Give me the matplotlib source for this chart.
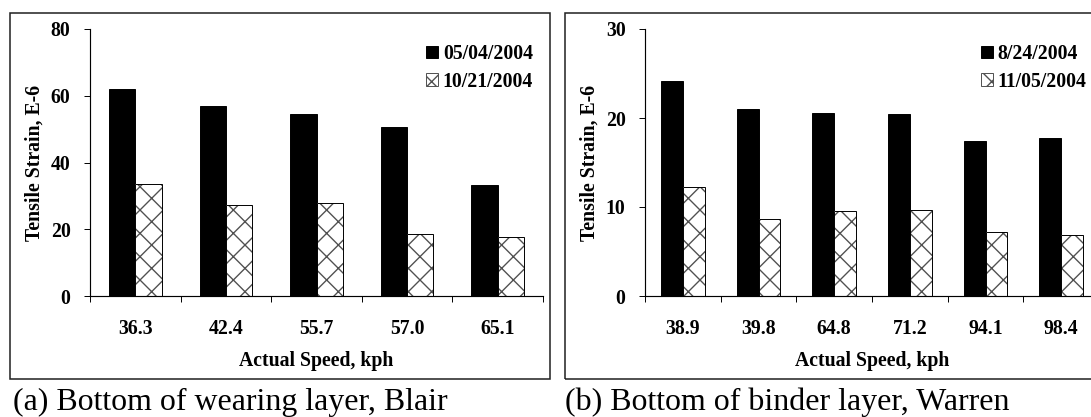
import numpy as np
import matplotlib
matplotlib.use('Agg')
import matplotlib.pyplot as plt
from matplotlib.patches import Patch, Rectangle

plt.rcParams['font.family'] = 'Liberation Serif'
plt.rcParams['hatch.linewidth'] = 0.7

# panel (a)
speeds_a = ['36.3', '42.4', '55.7', '57.0', '65.1']
may_a = [61.9, 56.8, 54.6, 50.6, 33.4]
oct_a = [33.7, 27.4, 28.0, 18.5, 17.8]
dates_a = ['05/04/2004', '10/21/2004']

# panel (b)
speeds_b = ['38.9', '39.8', '64.8', '71.2', '94.1', '98.4']
aug_b = [24.2, 21.0, 20.6, 20.4, 17.4, 17.7]
nov_b = [12.3, 8.7, 9.6, 9.7, 7.2, 6.9]
dates_b = ['8/24/2004', '11/05/2004']

W, H, DPI = 1091, 417, 140
fig = plt.figure(figsize=(W / DPI, H / DPI), dpi=DPI)

fs = 10.2
bw = 0.29


def panel(rect, cats, s1, s2, labels, ymax, ystep, leg_xy):
    ax = fig.add_axes(rect)
    n = len(cats)
    x = np.arange(n) + 0.5
    ax.bar(x - bw / 2, s1, bw, color='black', edgecolor='black', linewidth=0.5)
    ax.bar(x + bw / 2, s2, bw, color='white', edgecolor='#505050', linewidth=0, hatch='xx')
    ax.bar(x + bw / 2, s2, bw, fill=False, edgecolor='black', linewidth=0.5)
    ax.set_xlim(0, n)
    ax.set_ylim(0, ymax)
    ax.set_xticks(np.arange(n + 1))
    ax.set_xticklabels([])
    ax.set_xticks(x, minor=True)
    ax.set_xticklabels(cats, minor=True, fontsize=fs, fontweight='bold')
    ax.tick_params(axis='x', which='major', direction='out', length=3, width=0.5)
    ax.tick_params(axis='x', which='minor', length=0, pad=12)
    ax.set_yticks(np.arange(0, ymax + 1, ystep))
    ax.tick_params(axis='y', direction='out', length=3, width=0.5, pad=7)
    for lab in ax.get_yticklabels():
        lab.set_fontsize(fs)
        lab.set_fontweight('bold')
    for s in ['top', 'right']:
        ax.spines[s].set_visible(False)
    for s in ['left', 'bottom']:
        ax.spines[s].set_linewidth(0.6)
    ax.set_xlabel('Actual Speed, kph', fontsize=fs, fontweight='bold', labelpad=6)
    ax.set_ylabel('Tensile Strain, E-6', fontsize=fs, fontweight='bold', labelpad=3)
    handles = [Patch(facecolor='black', edgecolor='black', linewidth=0.5),
               Patch(facecolor='white', edgecolor='#505050', linewidth=0.5, hatch='xx')]
    ax.legend(handles, labels, loc='upper left', bbox_to_anchor=leg_xy,
              bbox_transform=fig.transFigure, frameon=False, borderpad=0,
              borderaxespad=0, handlelength=0.6, handleheight=0.6,
              handletextpad=0.25, labelspacing=0.38,
              prop={'weight': 'bold', 'size': fs})
    return ax


panel([90 / W, 1 - 296 / H, 453 / W, 267 / H], speeds_a, may_a, oct_a, dates_a,
      80, 20, (426 / W, 1 - 44 / H))
panel([645 / W, 1 - 296 / H, 454 / W, 267 / H], speeds_b, aug_b, nov_b, dates_b,
      30, 10, (981 / W, 1 - 44 / H))

for x0, x1 in [(10, 550), (565, 1100)]:
    fig.add_artist(Rectangle((x0 / W, 1 - 379 / H), (x1 - x0) / W, 366 / H,
                             transform=fig.transFigure, fill=False,
                             edgecolor='#222222', linewidth=0.8, clip_on=False))

fig.text(13 / W, 1 - 410 / H, '(a) Bottom of wearing layer, Blair', fontsize=16.4,
         va='baseline', ha='left')
fig.text(565 / W, 1 - 410 / H, '(b) Bottom of binder layer, Warren', fontsize=16.4,
         va='baseline', ha='left')

fig.savefig('out.png', dpi=DPI)
